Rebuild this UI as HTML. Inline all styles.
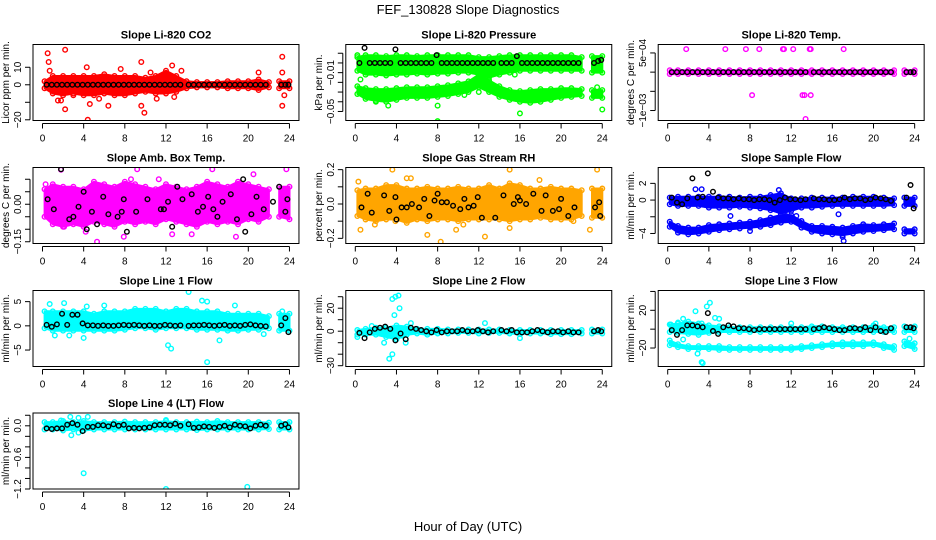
<!DOCTYPE html>
<html><head><meta charset="utf-8"><title>FEF_130828 Slope Diagnostics</title>
<style>
html,body{margin:0;padding:0;background:#fff;}
svg{display:block;font-family:"Liberation Sans",sans-serif;}
</style></head>
<body>
<svg id="chart" width="936" height="540" viewBox="0 0 936 540" xmlns="http://www.w3.org/2000/svg">
<rect x="0" y="0" width="936" height="540" fill="#fff"/>
<text x="468" y="14" text-anchor="middle" font-size="13">FEF_130828  Slope Diagnostics</text>
<text x="468" y="531" text-anchor="middle" font-size="13">Hour of Day (UTC)</text>
</svg>
<script>
// shared hour grids
const bandX = [0.2,1,2,3,4,5,6,7,8,9,10,11,12,13,14,15,16,17,18,19,20,21,22,null,23,24];
const blackX = [0.4,0.9,1.4,1.9,2.4,2.9,3.4,3.9,4.4,4.9,5.4,5.9,6.4,6.9,7.4,7.9,8.4,8.9,9.4,9.9,10.4,10.9,11.4,11.9,12.4,12.9,13.4,14.2,14.7,15.2,15.7,16.2,16.7,17.2,17.7,18.2,18.7,19.2,19.7,20.2,20.7,21.2,21.7,23.2,23.6,23.9];
const xTicks = [0,4,8,12,16,20,24];

// Panel 1: CO2
const co2Hi = [2,5,5,5,5,5,6,5,5,5,4,5,8,5,2,1.5,1.5,1.5,2,2,2,3,1.5,null,2,2];
const co2Lo = [-2,-5,-6,-5,-6,-6,-5,-6,-6,-5,-4,-5,-5,-4,-2,-1.5,-1.5,-1.5,-2,-2,-2,-3,-1.5,null,-2,-2];
const co2OutX = [0.5,0.6,0.7,2.2,1.5,1.8,2.2,4.4,4.6,4.3,6.4,7.6,9.6,9.9,9.6,12.6,11.1,23.3,23.5,23.3,23.3,5.5,3.0,10.5,12.8,21.0,13.5];
const co2OutY = [18,13,8,20,-9,-9,-14,-20,-11,10,-12,9,13,-16,-12,11,-8,16,-6,-12,7,-8,-6,7,-7,7,8];
const co2BlackY = [0,0,0,0,0,0,0,0,0,0,0,0,0,0,0,0,0,0,0,0,0,0,0,0,0,0,0,0,0,0,0,0,0,0,0,0,0,0,0,0,0,0,0,0,0,0];

// Panel 2: Pressure
const presUpHi = [0.006,0.008,0.008,0.007,0.008,0.008,0.007,0.008,0.008,0.008,0.008,0.008,0.006,0.006,0.007,0.008,0.008,0.008,0.008,0.008,0.008,0.008,0.006,null,0.007,0.007];
const presUpLo = [-0.008,-0.012,-0.012,-0.013,-0.012,-0.012,-0.011,-0.012,-0.011,-0.011,-0.01,-0.01,-0.012,-0.015,-0.012,-0.01,-0.008,-0.008,-0.008,-0.008,-0.008,-0.008,-0.008,null,-0.01,-0.01];
const presLoHi = [-0.024,-0.026,-0.027,-0.027,-0.026,-0.025,-0.025,-0.025,-0.024,-0.023,-0.021,-0.019,-0.012,-0.018,-0.024,-0.028,-0.029,-0.028,-0.027,-0.027,-0.026,-0.026,-0.027,null,-0.028,-0.028];
const presLoLo = [-0.032,-0.037,-0.039,-0.04,-0.038,-0.036,-0.036,-0.036,-0.035,-0.034,-0.032,-0.03,-0.025,-0.03,-0.035,-0.038,-0.04,-0.041,-0.04,-0.038,-0.036,-0.035,-0.034,null,-0.036,-0.036];
const presOutX = [0.2,0.5,2,3.2,8,8,16,24,10.6,12,15.5,23.5,1.4];
const presOutY = [0.008,-0.017,-0.04,-0.044,-0.06,-0.044,-0.052,-0.048,-0.033,-0.03,-0.012,-0.025,0.003];
const presBlackY = [0,0.0155,0,0,0,0,0,0.014,0,0,0,0,0,0,0,0.008,0,0,0,0,0,0,0,0,0,0,0,0,0,0,0.007,0,0,0,0,0,0,0,0,0,0,0,0,0,0.002,0.003];

// Panel 3: Temp
const tempHi = [0.00005,0.00005,0.00005,0.00005,0.00005,0.00005,0.00005,0.00005,0.00005,0.00005,0.00005,0.00005,0.00005,0.00005,0.00005,0.00005,0.00005,0.00005,0.00005,0.00005,0.00005,0.00005,0.00005,null,0.00005,0.00005];
const tempLo = [-0.00005,-0.00005,-0.00005,-0.00005,-0.00005,-0.00005,-0.00005,-0.00005,-0.00005,-0.00005,-0.00005,-0.00005,-0.00005,-0.00005,-0.00005,-0.00005,-0.00005,-0.00005,-0.00005,-0.00005,-0.00005,-0.00005,-0.00005,null,-0.00005,-0.00005];
const tempOutX = [1.8,5.6,7.6,8.9,11.2,11.3,12.2,13.8,13.9,17.1,8.2,13.1,13.3,13.9,13.4];
const tempOutY = [0.0006,0.0006,0.0006,0.0006,0.0006,0.0006,0.0006,0.0006,0.0006,0.0006,-0.0006,-0.0006,-0.0006,-0.0006,-0.00122];
const tempBlackY = co2BlackY;

// Panel 4: Amb Box Temp
const ambHi = [0.06,0.08,0.07,0.07,0.06,0.09,0.08,0.07,0.09,0.08,0.07,0.06,0.08,0.07,0.06,0.07,0.09,0.08,0.07,0.09,0.08,0.07,0.06,null,0.07,0.07];
const ambLo = [-0.05,-0.08,-0.09,-0.08,-0.09,-0.07,-0.08,-0.09,-0.07,-0.08,-0.07,-0.08,-0.06,-0.07,-0.08,-0.09,-0.07,-0.08,-0.07,-0.08,-0.06,-0.07,-0.05,null,-0.05,-0.06];
const ambOutX = [1.8,9.2,16.5,23.7,5.3,7.9,18.8,14.5,2.1,11.3,1,0.3,20.5,12.6,8.6,4.2];
const ambOutY = [0.138,0.14,0.14,0.14,-0.15,-0.13,-0.13,-0.12,-0.09,0.1,0.07,0.08,0.12,-0.12,0.1,-0.11];
const ambBlackX = [0.5,1.1,1.8,2.6,3,3.5,4,4.3,4.8,5.3,5.9,6.4,7.3,7.7,7.9,8.2,9.1,10.2,11.5,11.8,12.2,12.6,13.1,13.6,14.5,15.1,15.6,16.1,16.6,17,17.5,18.3,18.9,19.5,19.7,20.3,20.8,21.5,22.4,23,23.6,23.8];
const ambBlackY = [0.02,-0.02,0.14,-0.06,-0.05,-0.01,0.05,-0.1,-0.03,-0.08,0.03,-0.04,-0.05,-0.03,0.02,-0.11,-0.03,0.02,-0.02,-0.02,0.01,-0.09,0.07,0.02,0.04,-0.03,-0.01,0.03,-0.02,-0.05,0.01,0.04,-0.06,0.1,-0.11,-0.04,0.03,-0.02,0.01,0.07,-0.03,0.02];

// Panel 5: Gas Stream RH
const rhHi = [0.08,0.09,0.09,0.11,0.11,0.09,0.09,0.1,0.09,0.09,0.1,0.09,0.09,0.11,0.09,0.12,0.11,0.09,0.09,0.1,0.09,0.09,0.08,null,0.09,0.09];
const rhLo = [-0.07,-0.09,-0.1,-0.09,-0.09,-0.11,-0.09,-0.1,-0.09,-0.09,-0.1,-0.09,-0.09,-0.09,-0.09,-0.1,-0.09,-0.09,-0.08,-0.09,-0.09,-0.09,-0.07,null,-0.08,-0.08];
const rhOutX = [0.5,0.3,3.6,3.9,1.9,5,5.4,7,8.3,10.5,12.6,15,15,17.9,23.5,22.8,21.2,9.8];
const rhOutY = [-0.15,0.13,0.2,-0.1,-0.12,0.15,0.15,-0.18,-0.22,-0.12,-0.19,0.2,-0.14,0.14,0.2,-0.15,-0.1,-0.15];
const rhBlackX = [0.6,1.2,1.6,2.8,3.3,3.9,4.0,4.5,5.0,5.5,6.2,6.7,7.2,7.7,8,8.4,8.9,9.5,10.2,10.6,11,11.5,11.9,12.3,13.6,14.4,15.4,15.8,16,16.6,17.3,18.1,18.5,19.2,19.8,20,20.7,21.3,23.3,23.7,23.8];
const rhBlackY = [-0.02,0.06,-0.05,0.05,-0.04,0.04,-0.09,-0.02,-0.02,0.0,-0.02,0.03,-0.07,0.02,0.06,0.01,0.01,-0.01,-0.03,0.03,-0.02,-0.01,0.04,-0.08,-0.08,0.05,0.0,0.04,0.02,0.0,0.06,-0.04,0.05,-0.04,-0.03,0.03,-0.07,-0.02,-0.02,0.01,-0.07];

// Panel 6: Sample Flow
const sfUpHi = [0.3,0.4,0.4,0.4,0.4,0.4,0.4,0.3,0.4,0.4,0.6,0.8,0.2,0.2,0.3,0.3,0.3,0.3,0.4,0.4,0.4,0.3,0.2,null,0.3,0.3];
const sfUpLo = [-0.5,-0.7,-0.7,-0.7,-0.9,-0.9,-0.9,-0.8,-0.9,-1.0,-1.2,-1.6,-1.3,-0.9,-0.9,-0.8,-0.7,-0.7,-0.7,-0.7,-0.7,-0.7,-0.6,null,-0.7,-0.7];
const sfLoHi = [-2.6,-3.1,-3.3,-3.3,-3.0,-2.9,-2.8,-2.7,-2.6,-2.4,-2.1,-1.8,-1.8,-2.5,-3.1,-3.1,-3.2,-3.3,-3.1,-2.9,-3.0,-2.9,-2.8,null,-3.5,-3.5];
const sfLoLo = [-3.2,-3.9,-4.1,-4.0,-3.8,-3.6,-3.5,-3.4,-3.3,-3.2,-3.0,-2.7,-2.6,-3.3,-3.8,-4.0,-4.1,-4.2,-4.0,-3.8,-3.7,-3.6,-3.5,null,-4.0,-4.0];
const sfOutX = [2.7,3.3,10.8,8,17.1,17,4.1,16.6,6.1,12.5,11.5,12.2];
const sfOutY = [1.3,1.3,1.2,-3.7,-4.9,-4.4,-3.4,-1.7,-1.9,-1.9,-1.9,-2.2];
const sfBlackY = [0.3,-0.3,-0.5,0.2,2.6,0.3,0.4,3.2,1.0,0.3,0.2,0.2,0.1,0.2,0.1,0.1,0,0.1,0.1,0,-0.3,0,0.3,0.1,0.1,0,0.1,0.2,0.1,0.1,0,0,0.1,0.3,0.1,0.2,0.2,0,0.1,0.3,0.2,0.1,-0.1,0.3,1.8,-1.0];

// Panel 7: Line 1 Flow
const l1Hi = [3,3,3,3,3,2.5,3,3,3,3.5,3.5,3.5,3,3.5,3.5,3,3,3,2.5,2.5,2.5,2.5,2,null,2.5,2.5];
const l1Lo = [-0.5,-1,-1,-1,-1,-1,-1,-1,-0.8,-0.5,-0.5,-0.8,-0.5,-0.5,-0.5,-0.8,-0.8,-0.8,-1,-1,-0.8,-0.8,-0.5,null,-1,-1];
const l1OutX = [0.7,2.1,4.3,6,14.2,15.5,16,16,12.2,12.5,17.2,4,1.2,2.6,23.3,18.7,21.5];
const l1OutY = [4.5,4.7,4,4.2,7,5.2,5,-7.5,-4,-4.7,-3,-2.5,-2,-2,3,4.2,-1.7];
const l1BlackY = [0.2,-0.2,0.3,2.5,0.2,2.3,2.3,0.5,0.1,0.1,0,0.1,0,0,0.1,0.2,0.1,0.2,0.1,0,0.1,0,0,0.2,0.1,0,0.1,0,0.1,0.1,0.2,0.1,0,0.1,0.2,0,0.1,0,0.2,0.3,0.1,0,-0.1,0.1,1.6,-1.3];

// Panel 8: Line 2 Flow
const l2Hi = [1,2,3,3,5,4,2,2,2,1.5,1.5,1.5,1.5,1.5,1.5,1,1,1,1,1,1,1,1,null,1.5,1.5];
const l2Lo = [-3,-3,-3,-5,-7,-3,-2,-3,-2,-2,-1.5,-1.5,-2,-1.5,-1.5,-2,-2.5,-2,-2,-2.5,-2.5,-2.5,-2,null,-2,-2];
const l2OutX = [0.2,1.6,3.3,3.6,3.6,3.8,3.9,4.2,4.3,4.9,5.4,16,12.6,2.8,4.6];
const l2OutY = [-5,4.5,-24,-20,28,14,30,31,20,-10,7,-6,7,-10,-4];
const l2BlackY = [-1.5,-6,-1,2,3,4,2,-8,-2,-7,3,2,1,0,-1,1,-1,0,0,0,1,0,0,1,0,-1,0,1,0,1,-1,-1,-1,0,1,0,-1,0,0,-1,0,-1,-1,0,1,0];

// Panel 9: Line 3 Flow
const l3UpHi = [5,6,8,6,4,3,2,2,2,2,2,2,2,2,3,3,2,2,2,2,4,2,2,null,3,3];
const l3UpLo = [-3,-4,-5,-6,-4,-3,-3,-3,-3,-3,-3,-3,-3,-3,-3,-3,-3,-3,-3,-3,-3,-3,-3,null,-3,-3];
const l3LoHi = [-12,-16,-18,-18,-18,-18,-19,-19,-19,-19,-19,-19,-19,-18,-17,-16,-15,-14,-14,-14,-14,-16,-18,null,-13,-15];
const l3LoLo = [-17,-19,-21,-21,-21,-22,-22,-22,-22,-22,-22,-22,-22,-21,-20,-19,-18,-18,-18,-18,-17,-20,-22,null,-18,-21];
const l3OutX = [0.3,1,1.5,2.7,3.3,3.8,4.1,4.6,5,2.9,3.3,3.4,1.5,20.2,12,23.5];
const l3OutY = [5,7,11,19,6,24,28,12,11,-26,-35,-36,-11,6,6,-10];
const l3BlackY = [-1,-6,-1,4,4,3,2,17,-2,-5,2,4,3,1,1,0,-1,0,0,0,0,0,0,0,0,0,0,0,1,2,1,0,-1,-1,1,1,0,2,-1,2,-2,-3,1,2,2,1];

// Panel 10: Line 4 (LT) Flow
const l4Hi = [0.07,0.07,0.09,0.07,0.09,0.07,0.07,0.07,0.08,0.07,0.07,0.07,0.09,0.07,0.07,0.08,0.07,0.09,0.07,0.07,0.07,0.07,0.06,null,0.07,0.07];
const l4Lo = [-0.07,-0.07,-0.09,-0.07,-0.09,-0.07,-0.07,-0.07,-0.07,-0.07,-0.07,-0.07,-0.07,-0.07,-0.07,-0.08,-0.07,-0.07,-0.07,-0.07,-0.07,-0.07,-0.06,null,-0.07,-0.07];
const l4OutX = [2.7,3.5,4.4,2.8,3.5,4,12,19.9,12,1.8];
const l4OutY = [0.17,0.15,0.17,-0.18,-0.13,-0.9,-1.2,-1.16,0.11,0.1];
const l4BlackY = [-0.05,-0.06,-0.05,-0.05,0.02,0.05,0.02,-0.1,-0.02,-0.02,0.01,0.01,-0.01,0.03,0.0,0.02,-0.05,-0.04,-0.05,-0.04,-0.03,0.01,0.02,0.02,0.01,0.04,0.0,0.03,-0.04,-0.03,-0.01,-0.02,-0.04,-0.02,0.0,-0.03,0.02,0.0,-0.01,-0.05,0.0,0.02,0.0,0.0,0.03,-0.03];

// ---- layout (not data) ----
const NS = "http://www.w3.org/2000/svg";
const svg = document.getElementById('chart');
const X0 = [42.5,355.3,667.7];
const PX = 10.29;
const ROWTOP = [44.5,167.5,290.5,413];
const H = 76;
const R = 2.3, SW = 1.4;

const panels = [
 {name:'co2', title:'Slope Li-820 CO2', ylab:'Licor ppm per min.', col:0,row:0, vmin:-20.4,vmax:23, ticks:[10,0,-10,-20], tl:['10','0','','\u221220'], color:'#ff0000',
  bands:[[co2Lo,co2Hi]], outX:co2OutX,outY:co2OutY, bx:blackX, by:co2BlackY},
 {name:'pressure', title:'Slope Li-820 Pressure', ylab:'kPa per min.', col:1,row:0, vmin:-0.0593,vmax:0.019, ticks:[0.01,0,-0.01,-0.02,-0.03,-0.04,-0.05], tl:['','','\u22120.01','','','','\u22120.05'], color:'#00ff00',
  bands:[[presUpLo,presUpHi],[presLoLo,presLoHi]], outX:presOutX,outY:presOutY, bx:blackX, by:presBlackY},
 {name:'temp', title:'Slope Li-820 Temp.', ylab:'degrees C per min.', col:2,row:0, vmin:-0.00126,vmax:0.00072, ticks:[0.0005,0,-0.0005,-0.001], tl:['5e\u221204','','','\u22121e\u221203'], color:'#ff00ff',
  bands:[[tempLo,tempHi]], outX:tempOutX,outY:tempOutY, bx:blackX, by:tempBlackY},
 {name:'amb-box-temp', title:'Slope Amb. Box Temp.', ylab:'degrees C per min.', col:0,row:1, vmin:-0.157,vmax:0.147, ticks:[0.1,0.05,0,-0.05,-0.1,-0.15], tl:['','','0.00','','','\u22120.15'], color:'#ff00ff',
  bands:[[ambLo,ambHi]], outX:ambOutX,outY:ambOutY, bx:ambBlackX, by:ambBlackY},
 {name:'gas-stream-rh', title:'Slope Gas Stream RH', ylab:'percent per min.', col:1,row:1, vmin:-0.23,vmax:0.2125, ticks:[0.2,0.1,0,-0.1,-0.2], tl:['0.2','','0.0','','\u22120.2'], color:'#ffa500',
  bands:[[rhLo,rhHi]], outX:rhOutX,outY:rhOutY, bx:rhBlackX, by:rhBlackY},
 {name:'sample-flow', title:'Slope Sample Flow', ylab:'ml/min per min.', col:2,row:1, vmin:-5.2,vmax:3.9, ticks:[2,0,-2,-4], tl:['2','0','','\u22124'], color:'#0000ff',
  bands:[[sfUpLo,sfUpHi],[sfLoLo,sfLoHi]], outX:sfOutX,outY:sfOutY, bx:blackX, by:sfBlackY},
 {name:'line1-flow', title:'Slope Line 1 Flow', ylab:'ml/min per min.', col:0,row:2, vmin:-8.4,vmax:7.3, ticks:[5,0,-5], tl:['5','0','\u22125'], color:'#00ffff',
  bands:[[l1Lo,l1Hi]], outX:l1OutX,outY:l1OutY, bx:blackX, by:l1BlackY},
 {name:'line2-flow', title:'Slope Line 2 Flow', ylab:'ml/min per min.', col:1,row:2, vmin:-30.7,vmax:35.4, ticks:[30,20,10,0,-10,-20,-30], tl:['','20','','0','','','\u221230'], color:'#00ffff',
  bands:[[l2Lo,l2Hi]], outX:l2OutX,outY:l2OutY, bx:blackX, by:l2BlackY},
 {name:'line3-flow', title:'Slope Line 3 Flow', ylab:'ml/min per min.', col:2,row:2, vmin:-39.6,vmax:41, ticks:[40,20,0,-20], tl:['','20','','\u221220'], color:'#00ffff',
  bands:[[l3UpLo,l3UpHi],[l3LoLo,l3LoHi]], outX:l3OutX,outY:l3OutY, bx:blackX, by:l3BlackY},
 {name:'line4-flow', title:'Slope Line 4 (LT) Flow', ylab:'ml/min per min.', col:0,row:3, vmin:-1.2,vmax:0.243, ticks:[0.2,0,-0.2,-0.4,-0.6,-0.8,-1.0,-1.2], tl:['','0.0','','','\u22120.6','','','\u22121.2'], color:'#00ffff',
  bands:[[l4Lo,l4Hi]], outX:l4OutX,outY:l4OutY, bx:blackX, by:l4BlackY}
];

function mk(tag, attrs, parent){
  const e = document.createElementNS(NS, tag);
  for (const k in attrs) e.setAttribute(k, attrs[k]);
  (parent||svg).appendChild(e);
  return e;
}

panels.forEach(function(p){
  const x0 = X0[p.col], top = ROWTOP[p.row];
  const left = x0 - 9.5, right = x0 + 24*PX + 9.5, bottom = top + H;
  const xs = function(h){ return x0 + h*PX; };
  const ys = function(v){ return top + (p.vmax - v)/(p.vmax - p.vmin)*H; };
  const g = mk('g', {});
  
  

  const clipId = 'clip-' + p.name;
  const cp = mk('clipPath', {id: clipId}, g);
  mk('rect', {x:left, y:top, width:right-left, height:H}, cp);
  const plot = mk('g', {'clip-path':'url(#'+clipId+')'}, g);
  
  

  p.bands.forEach(function(b, bi){
    const lo = b[0], hi = b[1];
    let segs = [[]];
    for (let i=0;i<bandX.length;i++){
      if (bandX[i]===null || hi[i]===null){ segs.push([]); continue; }
      segs[segs.length-1].push(i);
    }
    segs.forEach(function(s){
      if (s.length < 2) return;
      let pts = [];
      s.forEach(function(i){ pts.push(xs(bandX[i]).toFixed(1)+','+ys(hi[i]).toFixed(1)); });
      s.slice().reverse().forEach(function(i){ pts.push(xs(bandX[i]).toFixed(1)+','+ys(lo[i]).toFixed(1)); });
      const poly = mk('polygon', {points:pts.join(' '), fill:p.color, stroke:p.color, 'stroke-width':2, 'stroke-linejoin':'round'}, plot);
      
      
    });
    for (let i=0;i<bandX.length;i++){
      if (bandX[i]===null || hi[i]===null) continue;
      [hi[i], lo[i]].forEach(function(v){
        const c = mk('circle', {cx:xs(bandX[i]), cy:ys(v), r:R, fill:'none', stroke:p.color, 'stroke-width':SW}, plot);
        
        
      });
    }
  });
  for (let i=0;i<p.outX.length;i++){
    const c = mk('circle', {cx:xs(p.outX[i]), cy:ys(p.outY[i]), r:R, fill:'none', stroke:p.color, 'stroke-width':SW}, plot);
    
    
  }
  for (let i=0;i<p.bx.length;i++){
    const c = mk('circle', {cx:xs(p.bx[i]), cy:ys(p.by[i]), r:R, fill:'none', stroke:'#000', 'stroke-width':SW}, plot);
    
    
  }

  const box = mk('rect', {x:left, y:top, width:right-left, height:H, fill:'none', stroke:'#000', 'stroke-width':1}, g);
  
  

  const t = mk('text', {x:(left+right)/2, y:top-6, 'text-anchor':'middle', 'font-size':11, 'font-weight':'bold'}, g);
  t.textContent = p.title;
  
  

  const xa = mk('g', {}, g);
  
  
  mk('line', {x1:xs(xTicks[0]), x2:xs(xTicks[xTicks.length-1]), y1:bottom+3, y2:bottom+3, stroke:'#000'}, xa);
  xTicks.forEach(function(h){
    mk('line', {x1:xs(h), x2:xs(h), y1:bottom+3, y2:bottom+8, stroke:'#000'}, xa);
    const lt = mk('text', {x:xs(h), y:bottom+21, 'text-anchor':'middle', 'font-size':10}, xa);
    lt.textContent = String(h);
    
    
  });

  const ya = mk('g', {}, g);
  
  
  mk('line', {x1:left-3, x2:left-3, y1:ys(p.ticks[0]), y2:ys(p.ticks[p.ticks.length-1]), stroke:'#000'}, ya);
  p.ticks.forEach(function(v, i){
    const yy = ys(v);
    mk('line', {x1:left-3, x2:left-8, y1:yy, y2:yy, stroke:'#000'}, ya);
    if (p.tl[i]){
      const lx = left - 12;
      const lt = mk('text', {x:lx, y:yy, 'text-anchor':'middle', 'font-size':10, transform:'rotate(-90 '+lx+' '+yy+')'}, ya);
      lt.textContent = p.tl[i];
      
      
    }
  });
  const tx = left - 24, ty = top + H/2;
  const yt = mk('text', {x:tx, y:ty, 'text-anchor':'middle', 'font-size':10, transform:'rotate(-90 '+tx+' '+ty+')'}, g);
  yt.textContent = p.ylab;
  
  
});
</script>
</body></html>
